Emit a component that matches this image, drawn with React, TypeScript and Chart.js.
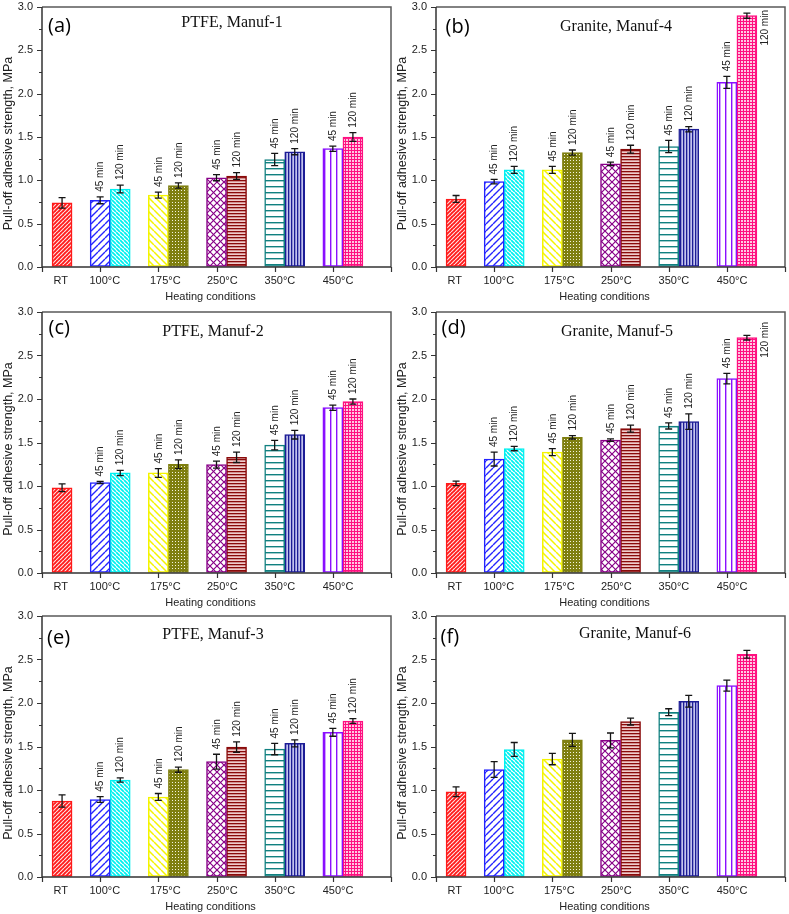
import React, { useEffect, useRef } from 'react';
import { Chart, registerables } from 'chart.js';
Chart.register(...registerables);

// ---------- data ----------
const CATEGORIES = ['RT', '100°C', '175°C', '250°C', '350°C', '450°C'];
const TAG_45 = '45 min';
const TAG_120 = '120 min';
const Y_TITLE = 'Pull-off adhesive strength, MPa';
const X_TITLE = 'Heating conditions';

// (a) PTFE, Manuf-1
const A_RT = [0.74];
const A_RT_ERR = [0.06];
const A_45 = [0.77, 0.83, 1.03, 1.24, 1.365];
const A_45_ERR = [0.04, 0.035, 0.035, 0.07, 0.03];
const A_120 = [0.9, 0.94, 1.05, 1.33, 1.5];
const A_120_ERR = [0.045, 0.03, 0.04, 0.035, 0.05];

// (b) Granite, Manuf-4
const B_RT = [0.785];
const B_RT_ERR = [0.04];
const B_45 = [0.985, 1.12, 1.19, 1.39, 2.13];
const B_45_ERR = [0.025, 0.04, 0.02, 0.07, 0.07];
const B_120 = [1.12, 1.32, 1.36, 1.59, 2.9];
const B_120_ERR = [0.04, 0.03, 0.045, 0.03, 0.03];

// (c) PTFE, Manuf-2
const C_RT = [0.98];
const C_RT_ERR = [0.045];
const C_45 = [1.04, 1.15, 1.245, 1.47, 1.9];
const C_45_ERR = [0.012, 0.05, 0.04, 0.055, 0.03];
const C_120 = [1.15, 1.25, 1.33, 1.59, 1.97];
const C_120_ERR = [0.03, 0.05, 0.06, 0.05, 0.03];

// (d) Granite, Manuf-5
const D_RT = [1.03];
const D_RT_ERR = [0.025];
const D_45 = [1.31, 1.39, 1.527, 1.69, 2.235];
const D_45_ERR = [0.08, 0.04, 0.015, 0.035, 0.06];
const D_120 = [1.43, 1.56, 1.66, 1.74, 2.705];
const D_120_ERR = [0.025, 0.02, 0.04, 0.09, 0.027];

// (e) PTFE, Manuf-3
const E_RT = [0.874];
const E_RT_ERR = [0.07];
const E_45 = [0.89, 0.92, 1.326, 1.47, 1.663];
const E_45_ERR = [0.033, 0.04, 0.085, 0.065, 0.045];
const E_120 = [1.115, 1.234, 1.494, 1.536, 1.793];
const E_120_ERR = [0.025, 0.03, 0.06, 0.04, 0.027];

// (f) Granite, Manuf-6
const F_RT = [0.98];
const F_RT_ERR = [0.055];
const F_45 = [1.236, 1.355, 1.57, 1.894, 2.2];
const F_45_ERR = [0.09, 0.065, 0.085, 0.04, 0.063];
const F_120 = [1.466, 1.577, 1.787, 2.02, 2.56];
const F_120_ERR = [0.08, 0.075, 0.04, 0.067, 0.045];

// ---------- styling / layout ----------
const SANS = '"Liberation Sans", Arial, sans-serif';
const SERIF = '"Liberation Serif", "Times New Roman", serif';
const LETTER_FONT = '"Open Sans", "Noto Sans", sans-serif';
const OFFSET_120 = 0.345;
const LABEL_POS = [0.32, 1.08, 2.12, 3.1, 4.09, 5.09];

const RED = '#ff1a1a';
const BLUE = '#2424ff';
const CYAN = '#00f0f0';
const YELLOW = '#f4f400';
const OLIVE = '#7f7f10';
const PURPLE = '#880088';
const DARKRED = '#8a0a0a';
const TEAL = '#108080';
const NAVY = '#1c1c96';
const VIOLET = '#8a10ff';
const MAGENTA = '#ff1080';

const COL_45 = [BLUE, YELLOW, PURPLE, TEAL, VIOLET];
const COL_120 = [CYAN, OLIVE, DARKRED, NAVY, MAGENTA];

type Box = { x0: number; y0: number; w: number; h: number; L: number; T: number; R: number; B: number };
type PanelDef = {
  key: string;
  letter: string;
  title: string;
  rt: number[]; rtErr: number[];
  v45: number[]; e45: number[];
  v120: number[]; e120: number[];
  tags: boolean;
  sideTagY: number | null;
  box: Box;
  titleDx: number; titleBase: number;
  letterDx: number; letterDy: number;
};

const COLX = [
  { x0: 0, w: 395, L: 42, R: 391 },
  { x0: 395, w: 394, L: 436, R: 785 },
];
const ROWY = [
  { y0: 0, h: 308, T: 7, B: 267 },
  { y0: 300, h: 310, T: 312, B: 573 },
  { y0: 604, h: 310, T: 616, B: 877 },
];
const box = (c: number, r: number): Box => ({ ...COLX[c], ...ROWY[r] });

const PANELS: PanelDef[] = [
  { key: 'a', letter: '(a)', title: 'PTFE, Manuf-1', rt: A_RT, rtErr: A_RT_ERR, v45: A_45, e45: A_45_ERR, v120: A_120, e120: A_120_ERR,
    tags: true, sideTagY: null, box: box(0, 0), titleDx: 190, titleBase: 20, letterDx: 6, letterDy: 19.5 },
  { key: 'b', letter: '(b)', title: 'Granite, Manuf-4', rt: B_RT, rtErr: B_RT_ERR, v45: B_45, e45: B_45_ERR, v120: B_120, e120: B_120_ERR,
    tags: true, sideTagY: 2.76, box: box(1, 0), titleDx: 180, titleBase: 24, letterDx: 9.5, letterDy: 20.5 },
  { key: 'c', letter: '(c)', title: 'PTFE, Manuf-2', rt: C_RT, rtErr: C_RT_ERR, v45: C_45, e45: C_45_ERR, v120: C_120, e120: C_120_ERR,
    tags: true, sideTagY: null, box: box(0, 1), titleDx: 171, titleBase: 24, letterDx: 6.5, letterDy: 16 },
  { key: 'd', letter: '(d)', title: 'Granite, Manuf-5', rt: D_RT, rtErr: D_RT_ERR, v45: D_45, e45: D_45_ERR, v120: D_120, e120: D_120_ERR,
    tags: true, sideTagY: 2.68, box: box(1, 1), titleDx: 181, titleBase: 24, letterDx: 5.5, letterDy: 16.5 },
  { key: 'e', letter: '(e)', title: 'PTFE, Manuf-3', rt: E_RT, rtErr: E_RT_ERR, v45: E_45, e45: E_45_ERR, v120: E_120, e120: E_120_ERR,
    tags: true, sideTagY: null, box: box(0, 2), titleDx: 171, titleBase: 22.5, letterDx: 5, letterDy: 22.5 },
  { key: 'f', letter: '(f)', title: 'Granite, Manuf-6', rt: F_RT, rtErr: F_RT_ERR, v45: F_45, e45: F_45_ERR, v120: F_120, e120: F_120_ERR,
    tags: false, sideTagY: null, box: box(1, 2), titleDx: 199, titleBase: 22, letterDx: 4.5, letterDy: 21 },
];

// ---------- patterns ----------
function tile(w: number, h: number, bg: string, draw: (c: CanvasRenderingContext2D) => void): CanvasPattern {
  const cv = document.createElement('canvas');
  cv.width = w;
  cv.height = h;
  const c = cv.getContext('2d')!;
  c.fillStyle = bg;
  c.fillRect(0, 0, w, h);
  draw(c);
  return c.createPattern(cv, 'repeat')!;
}
function diag(c: CanvasRenderingContext2D, s: number, color: string, lw: number, fwd: boolean) {
  c.strokeStyle = color;
  c.lineWidth = lw;
  c.beginPath();
  for (let k = -1; k <= 1; k++) {
    if (fwd) {
      c.moveTo(k * s, s);
      c.lineTo(k * s + s, 0);
    } else {
      c.moveTo(k * s, 0);
      c.lineTo(k * s + s, s);
    }
  }
  c.stroke();
}

let PATS: { rt: CanvasPattern; p45: CanvasPattern[]; p120: CanvasPattern[] } | null = null;
function getPatterns() {
  if (PATS) return PATS;
  PATS = {
    rt: tile(4, 4, RED, (c) => diag(c, 4, '#ffe0e0', 1.2, true)),
    p45: [
      tile(7, 7, '#ffffff', (c) => diag(c, 7, BLUE, 1.4, true)),
      tile(7, 7, '#ffffff', (c) => diag(c, 7, YELLOW, 1.5, false)),
      tile(7, 7, '#ffffff', (c) => { diag(c, 7, PURPLE, 1.2, true); diag(c, 7, PURPLE, 1.2, false); }),
      tile(6, 6, '#ffffff', (c) => { c.fillStyle = TEAL; c.fillRect(0, 0, 6, 1.4); }),
      tile(6, 6, '#ffffff', (c) => { c.fillStyle = VIOLET; c.fillRect(0, 0, 1.4, 6); }),
    ],
    p120: [
      tile(4, 4, '#ffffff', (c) => diag(c, 4, CYAN, 1.8, false)),
      tile(3, 3, OLIVE, (c) => { c.fillStyle = '#f4f4e0'; c.fillRect(1, 1, 1, 1); }),
      tile(3, 3, '#f0cccc', (c) => { c.fillStyle = DARKRED; c.fillRect(0, 0, 3, 1.3); }),
      tile(3, 3, '#c4c4ee', (c) => { c.fillStyle = NAVY; c.fillRect(0, 0, 1.3, 3); }),
      tile(3, 3, '#ffc8e2', (c) => { c.fillStyle = MAGENTA; c.fillRect(0, 0, 3, 1); c.fillRect(0, 0, 1, 3); }),
    ],
  };
  return PATS;
}

// ---------- decoration plugin ----------
const decorPlugin = {
  id: 'decor',
  afterDatasetsDraw(chart: any, _args: any, opts: any) {
    const { ctx, scales } = chart;
    const y = scales.y;
    ctx.save();
    chart.data.datasets.forEach((ds: any, di: number) => {
      const meta = chart.getDatasetMeta(di);
      meta.data.forEach((bar: any, i: number) => {
        const v = ds.data[i].y;
        const e = ds.errors[i];
        const cx = bar.x;
        const yt = y.getPixelForValue(v + e);
        const yb = y.getPixelForValue(v - e);
        ctx.strokeStyle = '#151515';
        ctx.lineWidth = 1.3;
        ctx.beginPath();
        ctx.moveTo(cx, yt); ctx.lineTo(cx, yb);
        ctx.moveTo(cx - 3.5, yt); ctx.lineTo(cx + 3.5, yt);
        ctx.moveTo(cx - 3.5, yb); ctx.lineTo(cx + 3.5, yb);
        ctx.stroke();
        if (opts.tags && ds.tag) {
          ctx.fillStyle = '#222';
          ctx.font = `10px ${SANS}`;
          const isSide = opts.sideTagY != null && ds.tag === TAG_120 && i === ds.data.length - 1;
          ctx.save();
          if (isSide) {
            ctx.translate(cx + bar.width / 2 + 8, y.getPixelForValue(opts.sideTagY));
            ctx.rotate(-Math.PI / 2);
            ctx.textAlign = 'center';
          } else {
            ctx.translate(cx + 0.5, yt - 5);
            ctx.rotate(-Math.PI / 2);
            ctx.textAlign = 'left';
          }
          ctx.textBaseline = 'middle';
          ctx.fillText(ds.tag, 0, 0);
          ctx.restore();
        }
      });
    });
    ctx.restore();
  },
  afterDraw(chart: any, _args: any, opts: any) {
    const { ctx, chartArea: ca, scales } = chart;
    const x = scales.x;
    const y = scales.y;
    ctx.save();
    // frame
    ctx.lineWidth = 1.5;
    ctx.strokeStyle = '#5a5a5a';
    ctx.beginPath();
    ctx.moveTo(ca.left, ca.top); ctx.lineTo(ca.right, ca.top); ctx.lineTo(ca.right, ca.bottom);
    ctx.stroke();
    ctx.strokeStyle = '#333';
    ctx.beginPath();
    ctx.moveTo(ca.left, ca.top); ctx.lineTo(ca.left, ca.bottom); ctx.lineTo(ca.right, ca.bottom);
    ctx.stroke();
    // ticks
    ctx.lineWidth = 1.2;
    ctx.beginPath();
    for (let k = 0; k <= 12; k++) {
      const py = Math.round(y.getPixelForValue(k * 0.25)) + 0.5;
      const len = k % 2 === 0 ? 5 : 3;
      ctx.moveTo(ca.left, py); ctx.lineTo(ca.left - len, py);
    }
    for (let k = 0; k <= 6; k++) {
      const px = Math.round(x.getPixelForValue(k)) + 0.5;
      ctx.moveTo(px, ca.bottom); ctx.lineTo(px, ca.bottom + 5);
    }
    ctx.stroke();
    // axis titles
    ctx.fillStyle = '#222';
    ctx.font = `11px ${SANS}`;
    ctx.textAlign = 'center';
    ctx.textBaseline = 'middle';
    ctx.fillText(X_TITLE, (ca.left + ca.right) / 2 - 6, ca.bottom + 29.5);
    ctx.save();
    ctx.translate(ca.left - 33, (ca.top + ca.bottom) / 2 + 6.5);
    ctx.rotate(-Math.PI / 2);
    ctx.font = `12.5px ${SANS}`;
    ctx.fillText(Y_TITLE, 0, 0);
    ctx.restore();
    // panel title
    ctx.fillStyle = '#111';
    ctx.font = `16px ${SERIF}`;
    ctx.textAlign = 'center';
    ctx.textBaseline = 'alphabetic';
    ctx.fillText(opts.title, ca.left + opts.titleDx, ca.top + opts.titleBase);
    // panel letter
    ctx.font = `20px ${LETTER_FONT}`;
    ctx.textAlign = 'left';
    ctx.textBaseline = 'middle';
    ctx.fillStyle = '#000';
    ctx.fillText(opts.letter, ca.left + opts.letterDx, ca.top + opts.letterDy);
    ctx.restore();
  },
};

function buildConfig(p: PanelDef): any {
  const P = getPatterns();
  const b = p.box;
  const common = { grouped: false, barThickness: 20, borderWidth: 1.5, borderSkipped: false };
  return {
    type: 'bar',
    data: {
      datasets: [
        { ...common, label: 'RT', tag: null, errors: p.rtErr,
          data: p.rt.map((v, i) => ({ x: i + OFFSET_120, y: v })),
          backgroundColor: [P.rt], borderColor: [RED] },
        { ...common, label: TAG_45, tag: TAG_45, errors: p.e45,
          data: p.v45.map((v, i) => ({ x: i + 1, y: v })),
          backgroundColor: P.p45, borderColor: COL_45 },
        { ...common, label: TAG_120, tag: TAG_120, errors: p.e120,
          data: p.v120.map((v, i) => ({ x: i + 1 + OFFSET_120, y: v })),
          backgroundColor: P.p120, borderColor: COL_120 },
      ],
    },
    options: {
      animation: false,
      responsive: false,
      maintainAspectRatio: false,
      devicePixelRatio: 1,
      layout: { padding: { top: b.T - b.y0, right: b.x0 + b.w - b.R, left: 0, bottom: 0 } },
      plugins: {
        legend: { display: false },
        tooltip: { enabled: false },
        decor: { title: p.title, letter: p.letter, titleDx: p.titleDx, titleBase: p.titleBase,
          letterDx: p.letterDx, letterDy: p.letterDy, tags: p.tags, sideTagY: p.sideTagY },
      },
      scales: {
        x: {
          type: 'linear', min: 0, max: 6, offset: false,
          grid: { display: true, drawOnChartArea: false, drawTicks: true, tickLength: 7, tickColor: 'rgba(0,0,0,0)', color: 'rgba(0,0,0,0)' },
          border: { display: false },
          afterBuildTicks: (s: any) => { s.ticks = LABEL_POS.map((v) => ({ value: v })); },
          afterFit: (s: any) => { s.height = b.y0 + b.h - b.B; },
          ticks: { autoSkip: false, maxRotation: 0, minRotation: 0, padding: 0, color: '#222',
            font: { family: SANS, size: 11 }, callback: (_v: any, i: number) => CATEGORIES[i] },
        },
        y: {
          type: 'linear', min: 0, max: 3,
          grid: { display: true, drawOnChartArea: false, drawTicks: true, tickLength: 9, tickColor: 'rgba(0,0,0,0)', color: 'rgba(0,0,0,0)' },
          border: { display: false },
          afterFit: (s: any) => { s.width = b.L - b.x0; },
          ticks: { stepSize: 0.5, padding: 0, color: '#222', font: { family: SANS, size: 11 },
            callback: (v: any) => Number(v).toFixed(1) },
        },
      },
    },
    plugins: [decorPlugin],
  };
}

function Panel({ def }: { def: PanelDef }) {
  const ref = useRef<HTMLCanvasElement>(null);
  useEffect(() => {
    const chart = new Chart(ref.current!, buildConfig(def));
    return () => chart.destroy();
  }, [def]);
  const b = def.box;
  return (
    <canvas ref={ref} width={b.w} height={b.h}
      style={{ position: 'absolute', left: b.x0, top: b.y0, width: b.w, height: b.h }} />
  );
}

export default function App() {
  return (
    <div style={{ position: 'absolute', left: 0, top: 0, width: 789, height: 914, background: '#ffffff', overflow: 'hidden' }}>
      {PANELS.map((p) => <Panel key={p.key} def={p} />)}
    </div>
  );
}
